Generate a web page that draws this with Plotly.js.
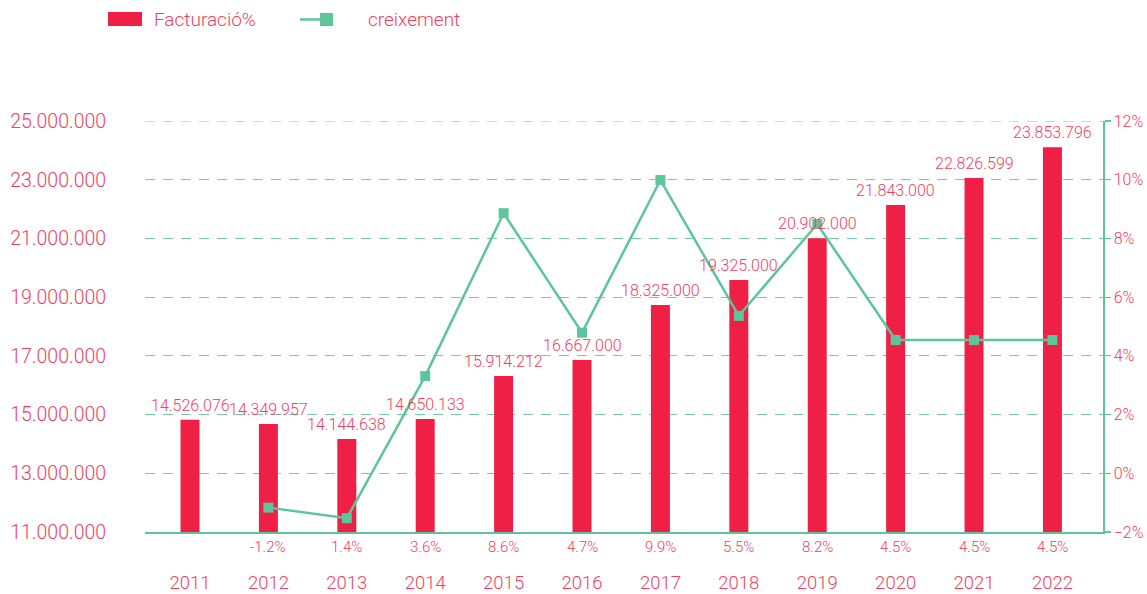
<!DOCTYPE html>
<html>
<head>
<meta charset="utf-8">
<script src="https://cdn.plot.ly/plotly-3.0.1.min.js"></script>
<style>html,body{margin:0;padding:0;background:#fff;}#chart{width:1147px;height:594px;}</style>
</head>
<body>
<div id="chart"></div>
<script>
// ---- data ----
const years = ['2011','2012','2013','2014','2015','2016','2017','2018','2019','2020','2021','2022'];
const facturacio = [14820000, 14680000, 14170000, 14850000, 16310000, 16860000, 18730000, 19580000, 21010000, 22140000, 23060000, 24110000];
const facturacioLabels = ['14.526.076','14.349.957','14.144.638','14.650.133','15.914.212','16.667.000','18.325.000','19.325.000','20.902.000','21.843.000','22.826.599','23.853.796'];
const creixementYears = ['2012','2013','2014','2015','2016','2017','2018','2019','2020','2021','2022'];
const creixement = [-1.17, -1.53, 3.31, 8.86, 4.79, 9.99, 5.36, 8.49, 4.54, 4.54, 4.54];
const creixementLabels = ['-1.2%','1.4%','3.6%','8.6%','4.7%','9.9%','5.5%','8.2%','4.5%','4.5%','4.5%'];
const yTickVals = [11000000,13000000,15000000,17000000,19000000,21000000,23000000,25000000];
const yTickText = ['11.000.000','13.000.000','15.000.000','17.000.000','19.000.000','21.000.000','23.000.000','25.000.000'];

const RED = '#ef1f45';
const TXT = '#ef3f60';
const GREEN = '#5ec49a';
const GRID = '#74cca6';
const FONT = 'Roboto, "Liberation Sans", sans-serif';

const traces = [
  {
    type: 'bar', name: 'Facturació%', x: years, y: facturacio,
    width: 0.242, marker: {color: RED}, showlegend: false,
    hoverinfo: 'x+y'
  },
  {
    type: 'scatter', mode: 'lines+markers', name: 'creixement',
    x: creixementYears, y: creixement, yaxis: 'y2',
    line: {color: GREEN, width: 2.5},
    marker: {symbol: 'square', size: 10, color: GREEN},
    showlegend: false, cliponaxis: false
  }
];

const annotations = [];
years.forEach((yr, i) => {
  annotations.push({
    x: years.indexOf(yr), y: facturacio[i], xref: 'x', yref: 'y', text: facturacioLabels[i],
    showarrow: false, yanchor: 'bottom', yshift: 3,
    font: {family: FONT, size: 16, color: TXT, weight: 300}
  });
});
creixementYears.forEach((yr, i) => {
  annotations.push({
    x: years.indexOf(yr), y: 0, xref: 'x', yref: 'paper', text: creixementLabels[i],
    showarrow: false, yanchor: 'middle', yshift: -15,
    font: {family: FONT, size: 15, color: TXT, weight: 300}
  });
});

const L = 145, R = 44, T = 121, B = 62, W = 1147, H = 594;
const pw = W - L - R, ph = H - T - B;
const px = v => (v - L) / pw, py = v => (H - B - v) / ph;
// legend (custom, drawn in paper coordinates)
annotations.push({x: px(152), y: py(19), xref: 'paper', yref: 'paper', text: 'Facturació%', showarrow: false,
  xanchor: 'left', yanchor: 'middle', font: {family: FONT, size: 19, color: TXT, weight: 300}});
annotations.push({x: px(366), y: py(19), xref: 'paper', yref: 'paper', text: 'creixement', showarrow: false,
  xanchor: 'left', yanchor: 'middle', font: {family: FONT, size: 19, color: TXT, weight: 300}});
const shapes = [
  {type: 'rect', xref: 'paper', yref: 'paper', x0: px(108), x1: px(142), y0: py(26), y1: py(12), fillcolor: RED, line: {width: 0}},
  {type: 'line', xref: 'paper', yref: 'paper', x0: px(300), x1: px(322), y0: py(19.5), y1: py(19.5), line: {color: GREEN, width: 2.5}},
  {type: 'rect', xref: 'paper', yref: 'paper', x0: px(320), x1: px(333), y0: py(26), y1: py(13), fillcolor: GREEN, line: {width: 0}},
  // top gridline at the range edge
  {type: 'line', xref: 'paper', yref: 'y', x0: 0, x1: 1, y0: yTickVals[yTickVals.length - 1], y1: yTickVals[yTickVals.length - 1],
   line: {color: GRID, width: 1, dash: '10px,8px'}, layer: 'below'}
];

const layout = {
  width: W, height: H,
  margin: {l: L, r: R, t: T, b: B, pad: 0},
  paper_bgcolor: '#ffffff', plot_bgcolor: '#ffffff',
  font: {family: FONT, color: TXT, weight: 300},
  showlegend: false,
  xaxis: {
    type: 'category', range: [-0.574, 11.645],
    showgrid: false, zeroline: false,
    showline: true, linecolor: GREEN, linewidth: 1.5,
    ticks: 'outside', ticklen: 33, tickcolor: 'rgba(0,0,0,0)',
    tickfont: {family: FONT, size: 18.5, color: TXT, weight: 300}
  },
  yaxis: {
    range: [11000000, 25000000], tickvals: yTickVals, ticktext: yTickText,
    showgrid: true, gridcolor: GRID, gridwidth: 1, griddash: '10px,8px',
    zeroline: false, showline: false,
    ticks: 'outside', ticklen: 34, tickcolor: 'rgba(0,0,0,0)',
    tickfont: {family: FONT, size: 19.5, color: TXT, weight: 300}
  },
  yaxis2: {
    overlaying: 'y', side: 'right', range: [-2, 12], dtick: 2, tick0: 0,
    ticksuffix: '%', showgrid: false, zeroline: false,
    showline: true, linecolor: GREEN, linewidth: 1.5,
    ticks: 'outside', ticklen: 6, tickcolor: GREEN, tickwidth: 1.2,
    tickfont: {family: FONT, size: 16, color: TXT, weight: 300}
  },
  annotations: annotations,
  shapes: shapes
};

Plotly.newPlot('chart', traces, layout, {displayModeBar: false, staticPlot: true});
</script>
</body>
</html>
